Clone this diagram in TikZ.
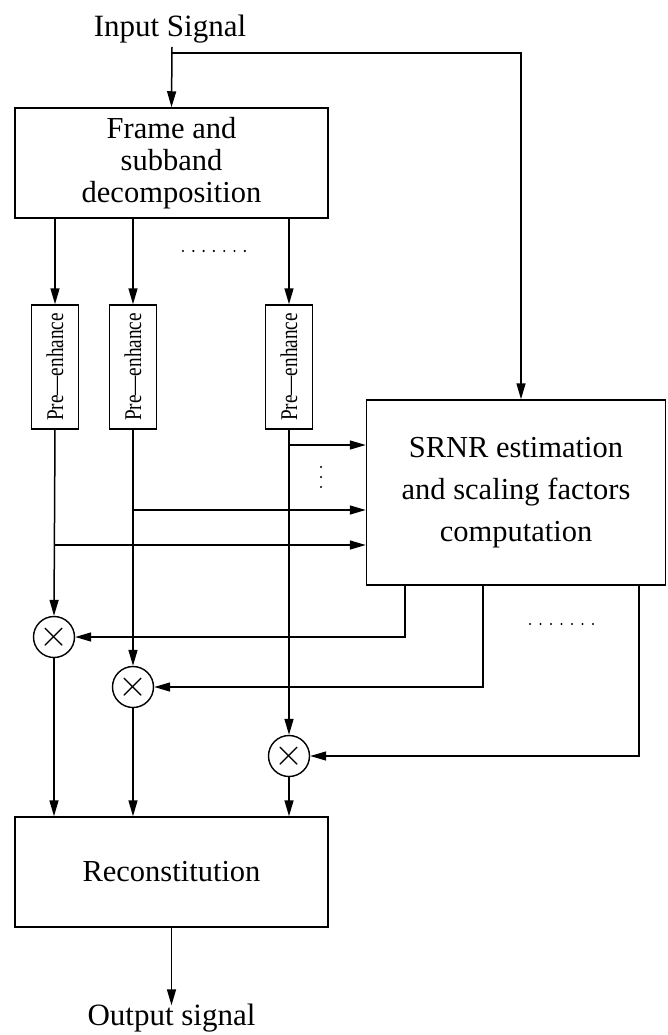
\documentclass[tikz,border=0pt]{standalone}
\usepackage{fontspec}
\setmainfont{Liberation Serif}
\usetikzlibrary{arrows.meta, positioning, calc}

\tikzset{
  block/.style={draw, line width=1.5pt, align=center, inner sep=0pt,
    font=\fontsize{30.5}{32}\selectfont},
  preblock/.style={draw, line width=1.5pt, minimum width=47pt, minimum height=124pt,
    inner sep=0pt, font=\fontsize{24}{24}\selectfont},
  mult/.style={draw, circle, line width=1.4pt, minimum size=41pt, inner sep=0pt,
    font=\fontsize{24}{24}\selectfont},
  label/.style={font=\fontsize{31}{32}\selectfont, inner sep=0pt},
  sig/.style={-{Triangle[length=16pt,width=9pt]}, line width=1.5pt},
}

\begin{document}
\begin{tikzpicture}[x=1pt, y=-1pt]
  \useasboundingbox (0,0) rectangle (667,1035);

  % input and decomposition
  \node[label, anchor=base] (insig) at (170,37) {Input Signal};
  \node[block, minimum width=313pt, minimum height=110pt] (frame) at (171.5,163)
    {Frame and\\ subband\\ decomposition};
  \coordinate (split) at (172,53);

  % pre-enhancement per subband
  \node[preblock] (pre1) at (55,367) {\rotatebox{90}{\scalebox{0.8}[1]{Pre—enhance}}};
  \node[preblock] (pre2) at (133,367) {\rotatebox{90}{\scalebox{0.8}[1]{Pre—enhance}}};
  \node[preblock] (pre3) at (289,367) {\rotatebox{90}{\scalebox{0.8}[1]{Pre—enhance}}};

  % SRNR estimation
  \node[block, minimum width=299pt, minimum height=185pt,
    font=\fontsize{30.5}{42}\selectfont] (srnr) at (516,492.5)
    {SRNR estimation\\ and scaling factors\\ computation};

  % multipliers
  \node[mult] (m1) at (54,637) {\scalebox{1.5}{$\times$}};
  \node[mult] (m2) at (133,687) {\scalebox{1.5}{$\times$}};
  \node[mult] (m3) at (289,756) {\scalebox{1.5}{$\times$}};

  % reconstitution and output
  \node[block, minimum width=313pt, minimum height=110pt] (recon) at (171.5,872)
    {Reconstitution};
  \node[label, anchor=base] (outsig) at (171.5,1025) {Output signal};

  \coordinate (r3) at (0,445);
  \coordinate (r2) at (0,510);
  \coordinate (r1) at (0,545);

  % connectors
  \draw[sig] (split |- 0,47) -- (frame.north);
  \draw[sig] (split) -| ([xshift=5pt]srnr.north);
  \foreach \p in {pre1,pre2,pre3}
    \draw[sig] (frame.south -| \p) -- (\p.north);
  \draw[sig] (pre1.south) -- (m1.north);
  \draw[sig] (pre2.south) -- (m2.north);
  \draw[sig] (pre3.south) -- (m3.north);
  \draw[sig] (pre3.south |- r3) -- (srnr.west |- r3);
  \draw[sig] (pre2.south |- r2) -- (srnr.west |- r2);
  \draw[sig] (pre1.south |- r1) -- (srnr.west |- r1);
  \draw[sig] ([xshift=39pt]srnr.south west) |- (m1.east);
  \draw[sig] ([xshift=117pt]srnr.south west) |- (m2.east);
  \draw[sig] ([xshift=273pt]srnr.south west) |- (m3.east);
  \foreach \m in {m1,m2,m3}
    \draw[sig] (\m.south) -- (\m.south |- recon.north);
  \draw[sig] (recon.south) -- ([yshift=-2pt]outsig.north);

  % dots
  \foreach \i in {0,...,6}
    \fill (183+\i*10.3,251) circle (1.2pt);
  \foreach \i in {0,...,2}
    \fill (321,467+\i*10) circle (1.2pt);
  \foreach \i in {0,...,6}
    \fill (530+\i*10.5,624) circle (1.2pt);
\end{tikzpicture}
\end{document}
